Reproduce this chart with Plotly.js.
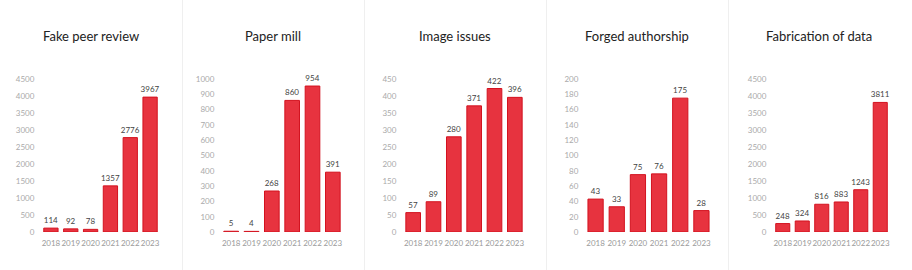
<!DOCTYPE html>
<html>
<head>
<meta charset="utf-8">
<script src="https://cdn.plot.ly/plotly-3.0.1.min.js"></script>
<style>html,body{margin:0;padding:0;background:#fff;}#chart{width:912px;height:270px;}</style>
</head>
<body>
<div id="chart"></div>
<script>
var years = ["2018","2019","2020","2021","2022","2023"];
var titles = ["Fake peer review","Paper mill","Image issues","Forged authorship","Fabrication of data"];
var fakePeerReview = [114, 92, 78, 1357, 2776, 3967];
var paperMill = [5, 4, 268, 860, 954, 391];
var imageIssues = [57, 89, 280, 371, 422, 396];
var forgedAuthorship = [43, 33, 75, 76, 175, 28];
var fabricationOfData = [248, 324, 816, 883, 1243, 3811];
var yMax = [4500, 1000, 450, 200, 4500];
var yStep = [500, 100, 50, 20, 500];

var series = [fakePeerReview, paperMill, imageIssues, forgedAuthorship, fabricationOfData];
var W = 912, H = 270;
var xPix = [[41, 160], [221, 343], [403, 525], [585, 712], [773, 890]];
var panelCenters = [91, 273, 455, 637, 819];
var seps = [182.5, 364.5, 546.5, 728.5];
var font = "Lato, 'Open Sans', sans-serif";

var data = [], layout = {
  width: W, height: H,
  margin: {l: 0, r: 0, t: 0, b: 0},
  paper_bgcolor: "#fff", plot_bgcolor: "#fff",
  showlegend: false,
  bargap: 0.28,
  font: {family: font},
  annotations: [], shapes: []
};

series.forEach(function (vals, i) {
  var n = i === 0 ? "" : String(i + 1);
  data.push({
    type: "bar", x: years, y: vals,
    xaxis: "x" + n, yaxis: "y" + n,
    marker: {color: "#e7333f", line: {color: "#d3121f", width: 1}},
    text: vals.map(String), textposition: "outside", cliponaxis: false,
    constraintext: "none",
    textfont: {family: font, size: 8, color: "#444"},
    hoverinfo: "skip"
  });
  layout["xaxis" + n] = {
    domain: [xPix[i][0] / W, xPix[i][1] / W],
    anchor: "y" + n, type: "category",
    showgrid: false, zeroline: false, showline: false,
    tickangle: 0,
    tickfont: {family: font, size: 8, color: "#9a9a9a"},
    ticks: "outside", ticklen: 3, tickcolor: "rgba(0,0,0,0)",
    fixedrange: true
  };
  layout["yaxis" + n] = {
    domain: [(H - 232) / H, (H - 79) / H],
    anchor: "x" + n, range: [0, yMax[i]],
    dtick: yStep[i], tick0: 0,
    showgrid: false, zeroline: false, showline: false,
    tickfont: {family: font, size: 8, color: "#aaaaaa"},
    ticks: "outside", ticklen: 4, tickcolor: "rgba(0,0,0,0)",
    fixedrange: true
  };
  layout.annotations.push({
    text: titles[i], xref: "paper", yref: "paper",
    x: panelCenters[i] / W, y: (H - 36) / H,
    xanchor: "center", yanchor: "middle", showarrow: false,
    font: {family: font, size: 13, color: "#222"}
  });
});
seps.forEach(function (s) {
  layout.shapes.push({
    type: "line", xref: "paper", yref: "paper",
    x0: s / W, x1: s / W, y0: 0, y1: 1,
    line: {color: "#efefef", width: 1}
  });
});

Plotly.newPlot("chart", data, layout, {displayModeBar: false, staticPlot: true});
</script>
</body>
</html>
